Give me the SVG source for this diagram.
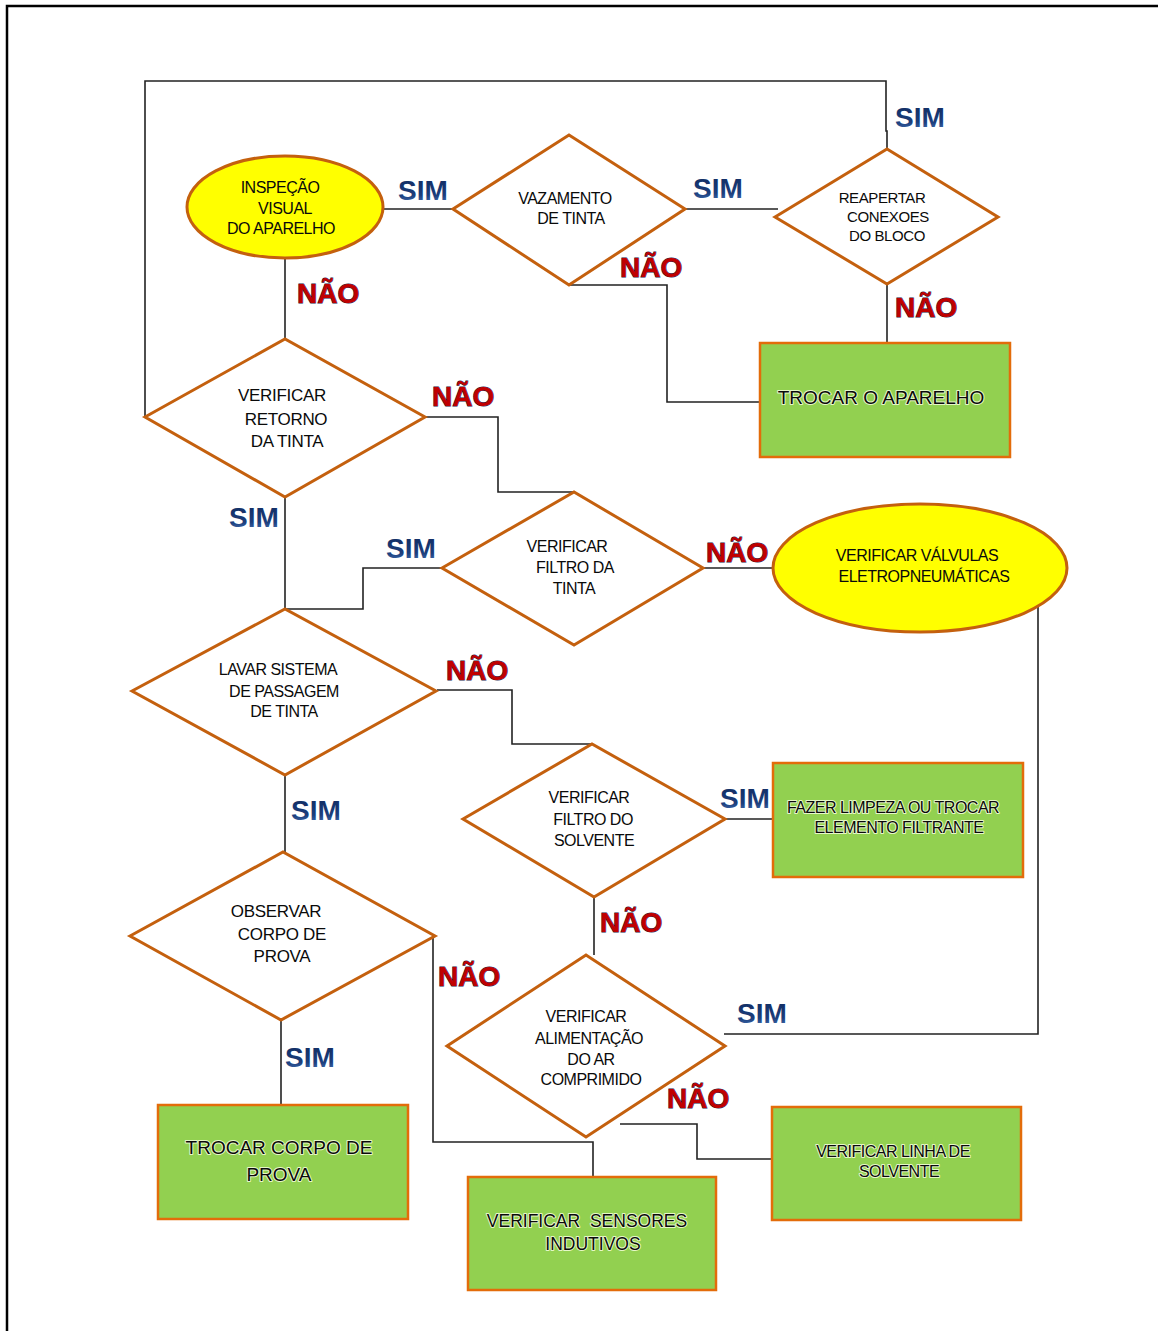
<svg xmlns="http://www.w3.org/2000/svg" width="1159" height="1331" viewBox="0 0 1159 1331">
<defs>
<linearGradient id="gSim" x1="0" y1="0" x2="0" y2="1">
<stop offset="0" stop-color="#102A5E"/>
<stop offset="0.65" stop-color="#1C3E7C"/>
<stop offset="1" stop-color="#4C7BBE"/>
</linearGradient>
<style>
.frame{fill:none;stroke:#000;stroke-width:2.5}
.con{fill:none;stroke:#222;stroke-width:1.6}
.dia{fill:#fff;stroke:#C4600E;stroke-width:3;stroke-linejoin:miter}
.ell{fill:#FFFF00;stroke:#C4600E;stroke-width:3}
.box{fill:#92D050;stroke:#E36C0A;stroke-width:2.5}
.t{font-family:"Liberation Sans",Arial,sans-serif;fill:#0A0A0A;text-anchor:middle}
.s15{font-size:15px;letter-spacing:-0.4px}
.s16{font-size:16px;letter-spacing:-0.5px}
.s17{font-size:17px;letter-spacing:-0.3px}
.s175{font-size:17.5px;letter-spacing:0px}
.s19{font-size:19px;letter-spacing:0px}
.g{stroke:#E6F7C8;stroke-width:2;paint-order:stroke;stroke-linejoin:round}
.sim{font-family:"Liberation Sans",Arial,sans-serif;font-weight:bold;font-size:28px;fill:url(#gSim)}
.nao{font-family:"Liberation Sans",Arial,sans-serif;font-weight:bold;font-size:28px;fill:#C00000;stroke:#1A1A4A;stroke-width:1;paint-order:stroke}
</style>
</defs>
<rect width="1159" height="1331" fill="#fff"/>
<path class="frame" d="M7,1331 V6 H1158"/>

<g id="connectors">
<path class="con" d="M383,209 H453"/>
<path class="con" d="M685,209 H778"/>
<path class="con" d="M569,285 H667 V402 H760"/>
<path class="con" d="M887,284 V343"/>
<path class="con" d="M887,149 V131 H886 V81 H145 V417"/>
<path class="con" d="M285,258 V340"/>
<path class="con" d="M425,417 H498 V492 H574"/>
<path class="con" d="M285,497 V609"/>
<path class="con" d="M442,568 H363 V609 H285"/>
<path class="con" d="M703,568 H773"/>
<path class="con" d="M1038,607 V1034 H724"/>
<path class="con" d="M437,690 H512 V744 H592"/>
<path class="con" d="M725,819 H773"/>
<path class="con" d="M594,897 V955"/>
<path class="con" d="M285,775 V852"/>
<path class="con" d="M435,936 H433 V1142 H593 V1177"/>
<path class="con" d="M281,1020 V1105"/>
<path class="con" d="M620,1124 H697 V1159 H772"/>
</g>

<g id="labels">
<text class="sim" x="398" y="200">SIM</text>
<text class="nao" x="297" y="303">NÃO</text>
<text class="sim" x="693" y="198">SIM</text>
<text class="sim" x="895" y="127">SIM</text>
<text class="nao" x="620" y="277">NÃO</text>
<text class="nao" x="895" y="317">NÃO</text>
<text class="nao" x="432" y="406">NÃO</text>
<text class="sim" x="229" y="527">SIM</text>
<text class="sim" x="386" y="558">SIM</text>
<text class="nao" x="706" y="562">NÃO</text>
<text class="sim" x="720" y="808">SIM</text>
<text class="nao" x="446" y="680">NÃO</text>
<text class="sim" x="291" y="820">SIM</text>
<text class="nao" x="600" y="932">NÃO</text>
<text class="nao" x="438" y="986">NÃO</text>
<text class="sim" x="737" y="1023">SIM</text>
<text class="nao" x="667" y="1108">NÃO</text>
<text class="sim" x="285" y="1067">SIM</text>
</g>

<g id="inspecao">
<ellipse class="ell" cx="285" cy="207" rx="98" ry="51"/>
<text class="t s16" x="280" y="193">INSPEÇÃO</text>
<text class="t s16" x="285" y="214">VISUAL</text>
<text class="t s16" x="281" y="234">DO APARELHO</text>
</g>

<g id="vazamento">
<polygon class="dia" points="453,209 569,135 685,209 569,285"/>
<text class="t s16" x="565" y="204">VAZAMENTO</text>
<text class="t s16" x="571" y="224">DE TINTA</text>
</g>

<g id="reapertar">
<polygon class="dia" points="775,217 887,149 998,217 887,284"/>
<text class="t s15" x="882" y="203">REAPERTAR</text>
<text class="t s15" x="888" y="222">CONEXOES</text>
<text class="t s15" x="887" y="241">DO BLOCO</text>
</g>

<g id="trocar-aparelho">
<rect class="box" x="760" y="343" width="250" height="114"/>
<text class="t s19 g" x="881" y="404">TROCAR O APARELHO</text>
</g>

<g id="retorno">
<polygon class="dia" points="145,417 285,339 425,417 285,497"/>
<text class="t s17" x="282" y="401">VERIFICAR</text>
<text class="t s17" x="286" y="425">RETORNO</text>
<text class="t s17" x="287" y="447">DA TINTA</text>
</g>

<g id="filtro-tinta">
<polygon class="dia" points="442,568 574,492 703,568 574,645"/>
<text class="t s16" x="567" y="552">VERIFICAR</text>
<text class="t s16" x="575" y="573">FILTRO DA</text>
<text class="t s16" x="574" y="594">TINTA</text>
</g>

<g id="valvulas">
<ellipse class="ell" cx="920" cy="568" rx="147" ry="64"/>
<text class="t s16" x="917" y="561">VERIFICAR VÁLVULAS</text>
<text class="t s16" x="924" y="582">ELETROPNEUMÁTICAS</text>
</g>

<g id="lavar">
<polygon class="dia" points="132,691 285,609 436,691 285,775"/>
<text class="t s16" x="278" y="675">LAVAR SISTEMA</text>
<text class="t s16" x="284" y="697">DE PASSAGEM</text>
<text class="t s16" x="284" y="717">DE TINTA</text>
</g>

<g id="filtro-solvente">
<polygon class="dia" points="463,819 592,744 725,819 594,897"/>
<text class="t s16" x="589" y="803">VERIFICAR</text>
<text class="t s16" x="593" y="825">FILTRO DO</text>
<text class="t s16" x="594" y="846">SOLVENTE</text>
</g>

<g id="fazer-limpeza">
<rect class="box" x="773" y="763" width="250" height="114"/>
<text class="t s16 g" x="893" y="813">FAZER LIMPEZA OU TROCAR</text>
<text class="t s16 g" x="899" y="833">ELEMENTO FILTRANTE</text>
</g>

<g id="observar">
<polygon class="dia" points="130,936 283,852 435,936 281,1020"/>
<text class="t s17" x="276" y="917">OBSERVAR</text>
<text class="t s17" x="282" y="940">CORPO DE</text>
<text class="t s17" x="282" y="962">PROVA</text>
</g>

<g id="alimentacao">
<polygon class="dia" points="447,1046 586,955 725,1046 586,1137"/>
<text class="t s16" x="586" y="1022">VERIFICAR</text>
<text class="t s16" x="589" y="1044">ALIMENTAÇÃO</text>
<text class="t s16" x="591" y="1065">DO AR</text>
<text class="t s16" x="591" y="1085">COMPRIMIDO</text>
</g>

<g id="trocar-corpo">
<rect class="box" x="158" y="1105" width="250" height="114"/>
<text class="t s19 g" x="279" y="1154">TROCAR CORPO DE</text>
<text class="t s19 g" x="279" y="1181">PROVA</text>
</g>

<g id="sensores">
<rect class="box" x="468" y="1177" width="248" height="113"/>
<text class="t s175 g" x="587" y="1227" xml:space="preserve">VERIFICAR  SENSORES</text>
<text class="t s175 g" x="593" y="1250">INDUTIVOS</text>
</g>

<g id="linha-solvente">
<rect class="box" x="772" y="1107" width="249" height="113"/>
<text class="t s16 g" x="893" y="1157">VERIFICAR LINHA DE</text>
<text class="t s16 g" x="899" y="1177">SOLVENTE</text>
</g>
</svg>
